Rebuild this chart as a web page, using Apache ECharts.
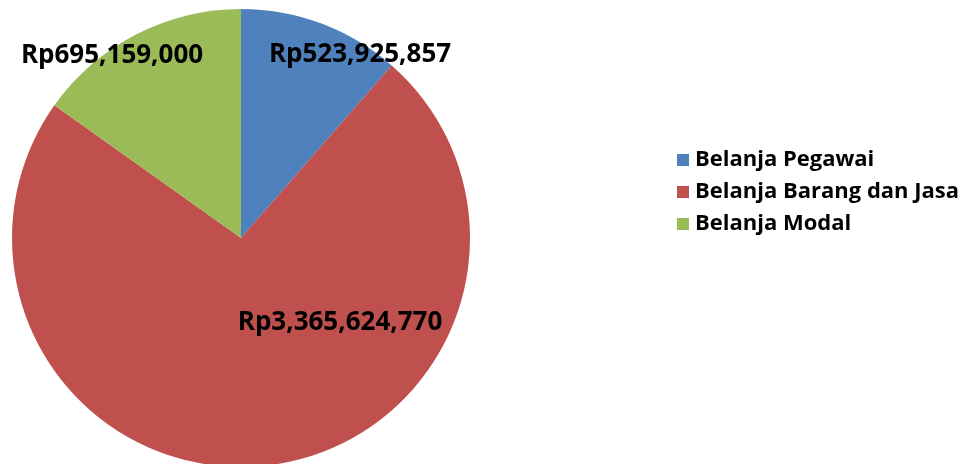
<!DOCTYPE html>
<html>
<head>
<meta charset="utf-8">
<script src="https://cdn.jsdelivr.net/npm/echarts@6/dist/echarts.min.js"></script>
<style>
  html, body { margin: 0; padding: 0; background: #fff; }
  #chart { width: 971px; height: 464px; }
</style>
</head>
<body>
<div id="chart"></div>
<script>
const categories = ['Belanja Pegawai', 'Belanja Barang dan Jasa', 'Belanja Modal']
const values = [523925857, 3365624770, 695159000]
const colors = ['#4F81BD', '#C0504D', '#9BBB59']

// where each data label sits (centre of text)
const labelPos = [[360, 55], [340, 323], [112, 56]]

const fmt = (v) => 'Rp' + v.toLocaleString('en-US')

const chart = echarts.init(document.getElementById('chart'))

chart.setOption({
  animation: false,
  textStyle: { fontFamily: 'Open Sans' },
  legend: {
    orient: 'vertical',
    left: 672,
    top: 144,
    itemWidth: 12,
    itemHeight: 12,
    itemGap: 10,
    itemStyle: { borderWidth: 0 },
    icon: 'rect',
    textStyle: { fontFamily: 'Open Sans', fontWeight: 'bold', fontSize: 22, color: '#000', padding: [0, 0, 0, 1] },
    data: categories
  },
  series: [
    {
      type: 'pie',
      center: [241, 238],
      radius: 229,
      startAngle: 90,
      clockwise: true,
      data: categories.map((name, i) => ({
        name,
        value: values[i],
        itemStyle: { color: colors[i] }
      })),
      label: {
        show: true,
        position: 'inside',
        formatter: (p) => fmt(p.value),
        fontFamily: 'Open Sans',
        fontWeight: 'bold',
        fontSize: 26,
        color: '#000'
      },
      labelLine: { show: false },
      labelLayout: (p) => ({
        x: labelPos[p.dataIndex][0],
        y: labelPos[p.dataIndex][1],
        align: 'center',
        verticalAlign: 'middle'
      }),
      emphasis: { disabled: true }
    }
  ]
})
</script>
</body>
</html>
